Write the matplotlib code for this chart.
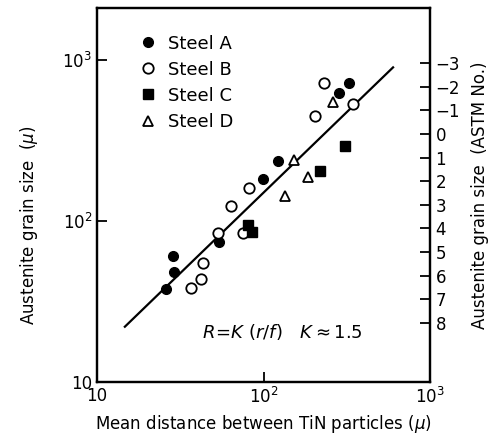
import matplotlib
matplotlib.use("Agg")
import matplotlib.pyplot as plt
from matplotlib.lines import Line2D
import numpy as np

# mean distance between TiN particles r (micron), grain size R (micron)
steel_a_r = [326, 284, 122, 99.3, 54.1, 28.6, 29.0, 25.9]
steel_a_R = [719, 624, 236, 182, 74.1, 60.7, 48.2, 37.8]
steel_b_r = [231, 345, 204, 81.8, 63.8, 53.3, 75.3, 43.4, 42.2, 36.7]
steel_b_R = [719, 533, 449, 160, 124, 84.1, 84.1, 54.8, 43.6, 38.4]
steel_c_r = [309, 218, 80.7, 85.4]
steel_c_R = [292, 205, 94.4, 85.5]
steel_d_r = [261, 152, 185, 135]
steel_d_R = [549, 239, 188, 143]

K = 1.5
line_r = [14.7, 600]

astm_no = [-3, -2, -1, 0, 1, 2, 3, 4, 5, 6, 7, 8]
astm_labels = ["\u22123", "\u22122", "\u22121", "0", "1", "2", "3", "4", "5", "6", "7", "8"]

fig = plt.figure(figsize=(4.97, 4.45), dpi=100)
ax = fig.add_axes([97/497, 1-382/445, 333/497, 374/445])

ax.plot(line_r, [K*v for v in line_r], color="black", lw=1.6)
ax.plot(steel_a_r, steel_a_R, "o", ms=7, color="black", ls="none")
ax.plot(steel_b_r, steel_b_R, "o", ms=7.5, mfc="white", mec="black", mew=1.3, ls="none")
ax.plot(steel_c_r, steel_c_R, "s", ms=6.5, color="black", ls="none")
ax.plot(steel_d_r, steel_d_R, "^", ms=6.5, mfc="white", mec="black", mew=1.3, ls="none")

ax.set_xscale("log")
ax.set_yscale("log")
ax.set_xlim(10, 1000)
ax.set_ylim(10, 2104)
ax.set_xticks([10, 100, 1000])
ax.set_xticklabels(["10", "$10^2$", "$10^3$"])
ax.set_yticks([10, 100, 1000])
ax.set_yticklabels(["10", "$10^2$", "$10^3$"])
ax.minorticks_off()
ax.tick_params(direction="in", length=7, width=1.3, labelsize=12, top=False, right=False)
for s in ax.spines.values():
    s.set_linewidth(1.6)

ax.set_xlabel("Mean distance between TiN particles ($\\mu$)", fontsize=12, labelpad=4)
ax.set_ylabel("Austenite grain size  ($\\mu$)", fontsize=12)
ax.yaxis.set_label_coords(-0.17, 0.42)

# ASTM grain size number on the right
ax2 = ax.twinx()
ax2.set_yscale("log")
ax2.set_ylim(ax.get_ylim())
astm_d = 347.7 * 10 ** (-0.1468 * np.array(astm_no))
ax2.set_yticks(astm_d)
ax2.set_yticklabels(astm_labels)
ax2.minorticks_off()
ax2.tick_params(direction="in", length=7, width=1.3, labelsize=12, pad=4)
ax2.set_ylabel("Austenite grain size  (ASTM No.)", fontsize=12, labelpad=8)
for s in ax2.spines.values():
    s.set_linewidth(1.6)

handles = [
    Line2D([], [], marker="o", ms=7, color="black", ls="none"),
    Line2D([], [], marker="o", ms=7.5, mfc="white", mec="black", mew=1.3, ls="none"),
    Line2D([], [], marker="s", ms=6.5, color="black", ls="none"),
    Line2D([], [], marker="^", ms=6.5, mfc="white", mec="black", mew=1.3, ls="none"),
]
ax.legend(handles, ["Steel A", "Steel B", "Steel C", "Steel D"], loc="upper left",
          bbox_to_anchor=(0.127, 0.929), frameon=False, fontsize=13, handlelength=1,
          handletextpad=0.6, labelspacing=0.45, borderpad=0, borderaxespad=0)

ax.text(0.315, 0.135, "$R\\!=\\!K\\ (r/f)\\quad K\\approx1.5$", transform=ax.transAxes,
        fontsize=13, va="center", ha="left")

fig.savefig("out.png", dpi=100)
